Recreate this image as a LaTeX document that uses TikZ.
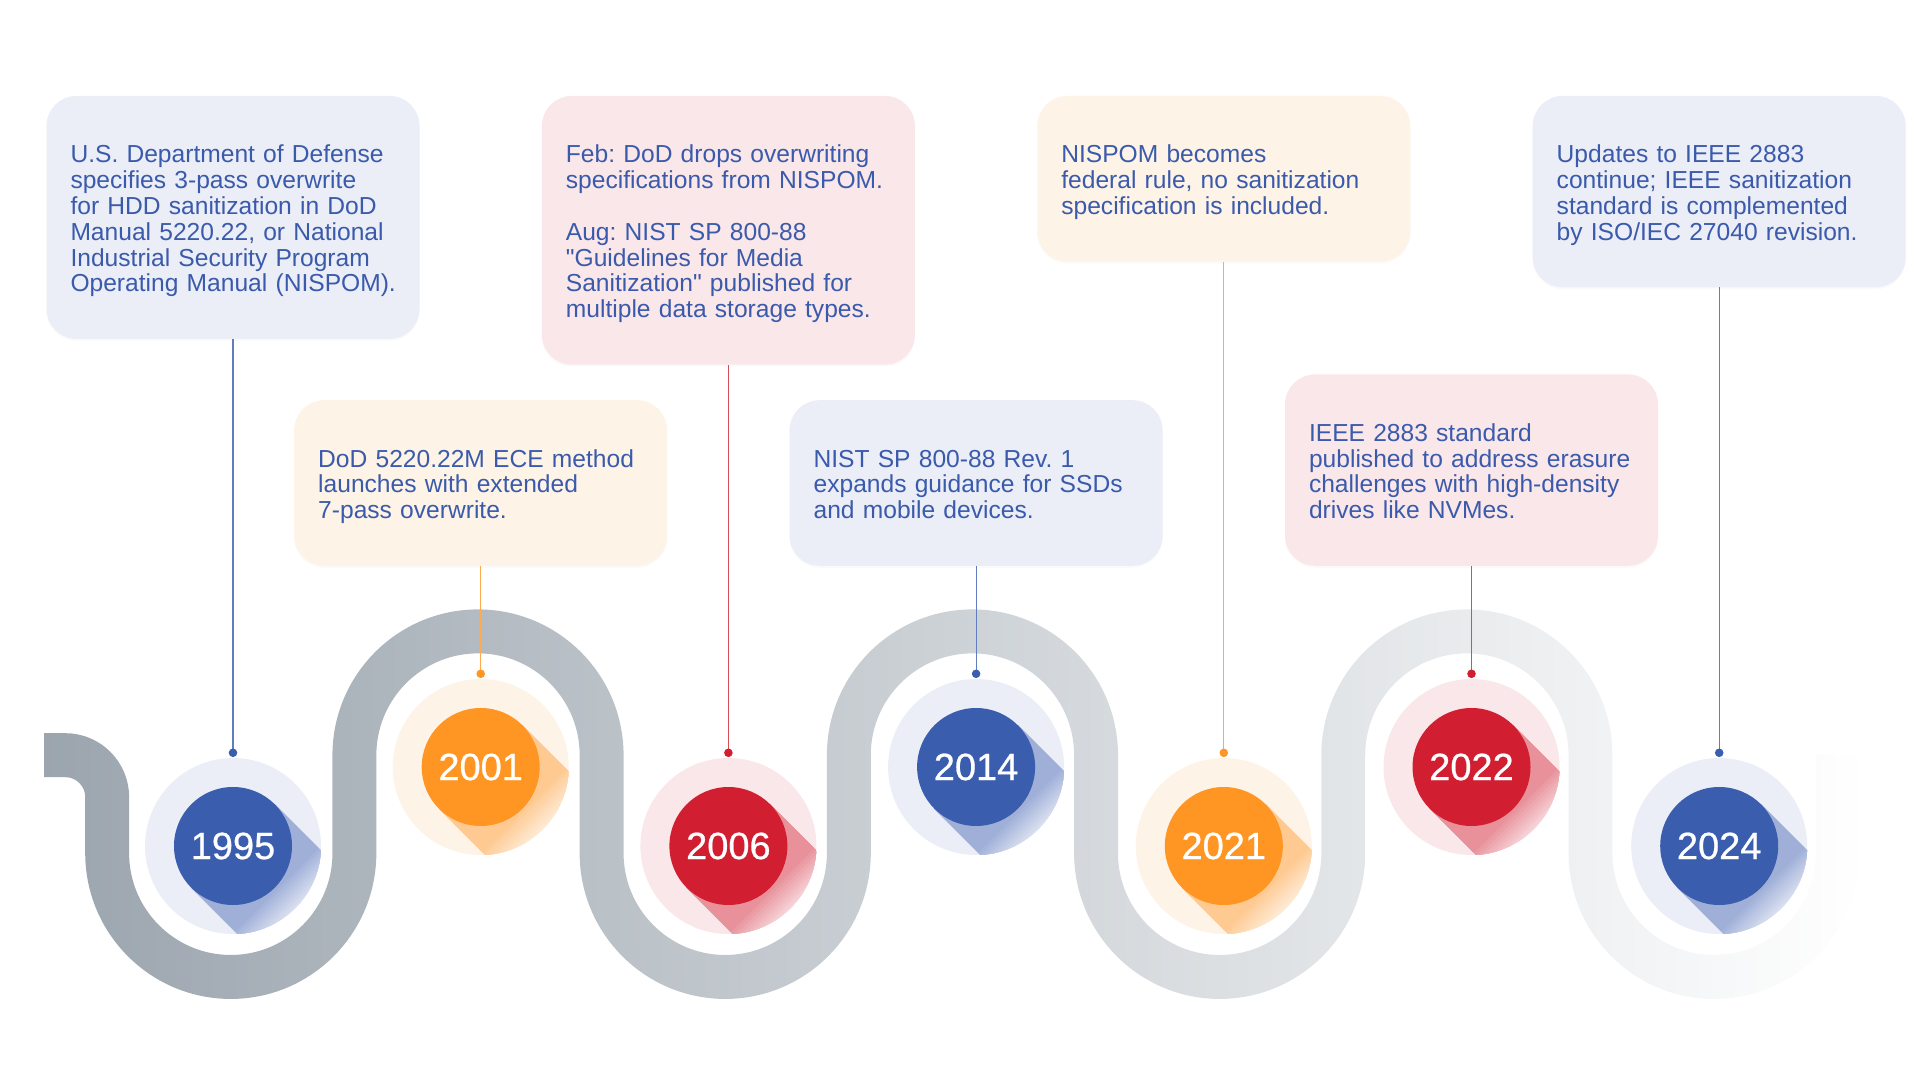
\documentclass[tikz,border=0pt]{standalone}
\usepackage{fontspec}
\setmainfont{Liberation Sans}[Ligatures=TeXOff]
\newfontfamily\yrfont{Liberation Sans}[FakeBold=0.6]
\usetikzlibrary{positioning,shadows,fadings}
\definecolor{bandgray}{HTML}{9AA4AD}
\definecolor{txtblue}{HTML}{3A5AAB}
\definecolor{evblue}{HTML}{3A5DAE}
\definecolor{evorange}{HTML}{FF9522}
\definecolor{evred}{HTML}{D11F31}
\definecolor{haloblue}{HTML}{EBEDF7}
\definecolor{haloorange}{HTML}{FEF3E7}
\definecolor{halored}{HTML}{FAE7EA}
\tikzfading[name=bandfade, left color=transparent!0, right color=transparent!100]
\frenchspacing
\hfuzz=10pt

\begin{document}
\begin{tikzpicture}[x=1pt,y=1pt,
  evbox/.style={rounded corners=30pt, text width=325pt, inner xsep=24pt, inner ysep=41pt,
    align=left, text=txtblue, font=\fontsize{24.6}{25.8}\selectfont,
    drop shadow={opacity=0.04, shadow xshift=0pt, shadow yshift=-2pt},
    execute at begin node={\rule{0pt}{26pt}}, execute at end node={\rule[-6pt]{0pt}{6pt}}},
  yrdisc/.style={circle, minimum size=118pt, inner sep=0pt, text=white, font=\yrfont\fontsize{38}{38}\selectfont},
  halo/.style={circle, minimum size=176pt, inner sep=0pt},
  conn/.style={line width=1.2pt}]
\useasboundingbox (0,0) rectangle (1920,1080);

% the winding road
\draw[line width=44pt, bandgray, path fading=bandfade]
(46,325) -- (67.15,325) arc[start angle=90,end angle=0,radius=42] -- (109.15,227)
arc[start angle=180,end angle=360,radius=123.85]
\foreach \k in {1,2,3} {
  -- ++(0,98) arc[start angle=180,end angle=0,radius=123.85]
  -- ++(0,-98) arc[start angle=180,end angle=360,radius=123.85]}
-- ++(0,98);

% year discs with their long shadows
\foreach \i/\yr/\col in {0/1995/blue,1/2001/orange,2/2006/red,3/2014/blue,4/2021/orange,5/2022/red,6/2024/blue}
{
  \pgfmathsetmacro\px{233+247.7*\i}
  \pgfmathsetmacro\py{234+79*mod(\i,2)}
  \node[halo, fill=halo\col] (halo\i) at (\px,\py) {};
  \begin{scope}
    \clip (halo\i.center) circle (88pt);
    \begin{scope}[shift={(halo\i.center)}, rotate=-45]
      \foreach \k in {11,...,0} {
        \pgfmathsetmacro\p{45*(1-(\k+0.5)/12)}
        \fill[ev\col!\p!halo\col] (0,-59) rectangle ({59+3*(\k+1)},59);
      }
    \end{scope}
  \end{scope}
  \node[yrdisc, fill=ev\col] (yr\i) at (halo\i) {\yr};
  \coordinate (dot\i) at ([yshift=5pt]halo\i.north);
}

% the events
\node[evbox, fill=haloblue, anchor=north] (ev0) at (halo0 |- 0,984.3)
  {U.S. Department of Defense\\specifies 3-pass overwrite\\for HDD sanitization in DoD\\Manual 5220.22, or National\\Industrial Security Program\\\mbox{Operating Manual (NISPOM).}};
\node[evbox, fill=haloorange, anchor=south] (ev1) at (halo1 |- 0,514)
  {DoD 5220.22M ECE method\\launches with extended\\7-pass overwrite.};
\node[evbox, fill=halored, anchor=north] (ev2) at (halo2 |- 0,984.3)
  {Feb: DoD drops overwriting\\\mbox{specifications from NISPOM.}\\[25.8pt]Aug: NIST SP 800-88\\"Guidelines for Media\\Sanitization" published for\\multiple data storage types.};
\node[evbox, fill=haloblue, anchor=south] (ev3) at (halo3 |- 0,514)
  {NIST SP 800-88 Rev. 1\\expands guidance for SSDs\\and mobile devices.};
\node[evbox, fill=haloorange, anchor=north] (ev4) at (halo4 |- 0,984.3)
  {NISPOM becomes\\federal rule, no sanitization\\specification is included.};
\node[evbox, fill=halored, anchor=south] (ev5) at (halo5 |- 0,514)
  {IEEE 2883 standard\\\mbox{published to address erasure}\\challenges with high-density\\drives like NVMes.};
\node[evbox, fill=haloblue, anchor=north] (ev6) at (halo6 |- 0,984.3)
  {Updates to IEEE 2883\\continue; IEEE sanitization\\standard is complemented\\by ISO/IEC 27040 revision.};

% connectors from events down to the discs
\foreach \i/\col in {0/blue,1/orange,2/red,3/blue,4/orange,5/red,6/blue}
{
  \draw[conn, ev\col!80!white] (ev\i.south) -- (dot\i);
  \fill[ev\col] (dot\i) circle (4.3pt);
}
\end{tikzpicture}
\end{document}
